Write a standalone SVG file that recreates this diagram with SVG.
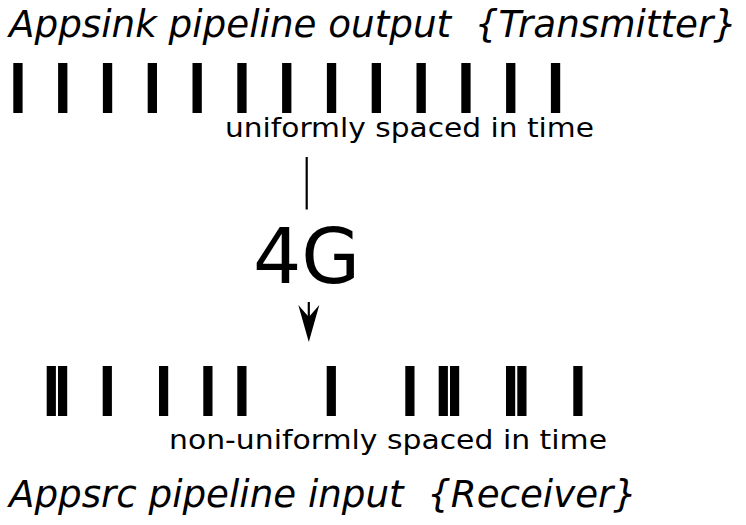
<svg xmlns="http://www.w3.org/2000/svg" width="746" height="525" viewBox="0 0 746 525">
<style>
.title{font-family:"DejaVu Sans Condensed","DejaVu Sans",sans-serif;font-style:oblique;font-stretch:condensed;font-size:37px;fill:#000;white-space:pre}
.sub{font-family:"DejaVu Sans",sans-serif;font-size:26px;fill:#000}
.big{font-family:"DejaVu Sans",sans-serif;font-size:76px;fill:#000}
.bar{fill:#000}
.conn{stroke:#000;stroke-width:2.2;fill:none}
</style>
<defs>
<marker id="arr" markerUnits="userSpaceOnUse" viewBox="0 -12 40 24" markerWidth="40" markerHeight="24" refX="12" refY="0" orient="auto">
<path d="M0,-10.5 L37,0 L0,10.5 L12,0 Z" fill="#000"/>
</marker>
</defs>
<rect width="746" height="525" fill="#fff"/>
<g id="tx-title"><text class="title" xml:space="preserve" x="9" y="37" textLength="728" lengthAdjust="spacingAndGlyphs">Appsink pipeline output  {Transmitter}</text></g>
<g id="tx-bars">
<rect class="bar" x="13.3" y="63" width="9.3" height="50"/>
<rect class="bar" x="58.1" y="63" width="9.3" height="50"/>
<rect class="bar" x="102.9" y="63" width="9.3" height="50"/>
<rect class="bar" x="147.7" y="63" width="9.3" height="50"/>
<rect class="bar" x="192.5" y="63" width="9.3" height="50"/>
<rect class="bar" x="237.3" y="63" width="9.3" height="50"/>
<rect class="bar" x="282.1" y="63" width="9.3" height="50"/>
<rect class="bar" x="326.9" y="63" width="9.3" height="50"/>
<rect class="bar" x="371.7" y="63" width="9.3" height="50"/>
<rect class="bar" x="416.5" y="63" width="9.3" height="50"/>
<rect class="bar" x="461.3" y="63" width="9.3" height="50"/>
<rect class="bar" x="506.1" y="63" width="9.3" height="50"/>
<rect class="bar" x="550.9" y="63" width="9.3" height="50"/>
</g>
<g id="tx-label"><text class="sub" x="225" y="137" textLength="369" lengthAdjust="spacingAndGlyphs">uniformly spaced in time</text></g>
<g id="net"><text class="big" x="253" y="283">4G</text></g>
<g id="connectors">
<path class="conn" d="M306.7,157 V209.5"/>
<path class="conn" d="M308.8,302 V317" marker-end="url(#arr)"/>
</g>
<g id="rx-bars">
<rect class="bar" x="46.7" y="366" width="9.2" height="50"/>
<rect class="bar" x="58" y="366" width="9.2" height="50"/>
<rect class="bar" x="102.7" y="366" width="9.2" height="50"/>
<rect class="bar" x="159" y="366" width="9.2" height="50"/>
<rect class="bar" x="203.3" y="366" width="9.2" height="50"/>
<rect class="bar" x="237.3" y="366" width="9.2" height="50"/>
<rect class="bar" x="326.7" y="366" width="9.2" height="50"/>
<rect class="bar" x="405.3" y="366" width="9.2" height="50"/>
<rect class="bar" x="438.7" y="366" width="9.2" height="50"/>
<rect class="bar" x="450" y="366" width="9.2" height="50"/>
<rect class="bar" x="506" y="366" width="9.2" height="50"/>
<rect class="bar" x="517.3" y="366" width="9.2" height="50"/>
<rect class="bar" x="573.3" y="366" width="9.2" height="50"/>
</g>
<g id="rx-label"><text class="sub" x="169" y="449" textLength="438" lengthAdjust="spacingAndGlyphs">non-uniformly spaced in time</text></g>
<g id="rx-title"><text class="title" xml:space="preserve" x="9" y="507" textLength="628" lengthAdjust="spacingAndGlyphs">Appsrc pipeline input  {Receiver}</text></g>
</svg>
